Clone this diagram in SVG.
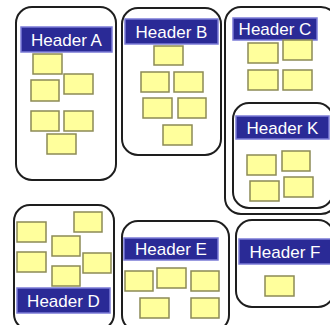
<svg xmlns="http://www.w3.org/2000/svg" width="330" height="325" viewBox="0 0 330 325">
  <style>
    .group { fill: #ffffff; stroke: #1e1e1e; stroke-width: 2; }
    .hdr { fill: #2a2a96; stroke: #7b7bd6; stroke-width: 1.5; }
    .hdr-text { fill: #ffffff; font-family: "Liberation Sans", Arial, sans-serif; font-size: 17px; text-anchor: middle; dominant-baseline: central; }
    .note { fill: #ffff9c; stroke: #8c8a56; stroke-width: 1.5; }
  </style>
  <rect width="330" height="325" fill="#ffffff"/>

  <g id="group-a">
    <rect class="group" x="16" y="7" width="100" height="173" rx="16"/>
    <rect class="hdr" x="21" y="27" width="91" height="25"/>
    <text class="hdr-text" x="66.5" y="40">Header A</text>
    <rect class="note" x="33" y="54" width="29" height="20"/>
    <rect class="note" x="31" y="80" width="28" height="21"/>
    <rect class="note" x="64" y="74" width="29" height="20"/>
    <rect class="note" x="31" y="111" width="28" height="20"/>
    <rect class="note" x="64" y="111" width="29" height="20"/>
    <rect class="note" x="47" y="134" width="29" height="20"/>
  </g>

  <g id="group-b">
    <rect class="group" x="122" y="8" width="99" height="147" rx="16"/>
    <rect class="hdr" x="125" y="19" width="93" height="25"/>
    <text class="hdr-text" x="171.5" y="32">Header B</text>
    <rect class="note" x="154" y="46" width="29" height="19"/>
    <rect class="note" x="141" y="72" width="28" height="20"/>
    <rect class="note" x="174" y="72" width="29" height="20"/>
    <rect class="note" x="143" y="98" width="29" height="20"/>
    <rect class="note" x="178" y="98" width="28" height="20"/>
    <rect class="note" x="163" y="125" width="29" height="20"/>
  </g>

  <g id="group-c">
    <rect class="group" x="225" y="7" width="112" height="207" rx="16"/>
    <rect class="hdr" x="233" y="18" width="84" height="22"/>
    <text class="hdr-text" x="275" y="29">Header C</text>
    <rect class="note" x="248" y="43" width="30" height="20"/>
    <rect class="note" x="283" y="40" width="29" height="20"/>
    <rect class="note" x="248" y="70" width="30" height="20"/>
    <rect class="note" x="283" y="70" width="29" height="20"/>
  </g>

  <g id="group-k">
    <rect class="group" x="233" y="103" width="100" height="105" rx="16"/>
    <rect class="hdr" x="236" y="116" width="93" height="23"/>
    <text class="hdr-text" x="282.5" y="128">Header K</text>
    <rect class="note" x="247" y="155" width="29" height="20"/>
    <rect class="note" x="282" y="151" width="28" height="20"/>
    <rect class="note" x="250" y="181" width="29" height="20"/>
    <rect class="note" x="284" y="177" width="29" height="20"/>
  </g>

  <g id="group-d">
    <rect class="group" x="14" y="205" width="100" height="125" rx="16"/>
    <rect class="hdr" x="17" y="288" width="93" height="25"/>
    <text class="hdr-text" x="63.5" y="301">Header D</text>
    <rect class="note" x="17" y="222" width="29" height="20"/>
    <rect class="note" x="74" y="212" width="28" height="20"/>
    <rect class="note" x="52" y="236" width="28" height="20"/>
    <rect class="note" x="17" y="252" width="29" height="20"/>
    <rect class="note" x="83" y="253" width="28" height="20"/>
    <rect class="note" x="52" y="266" width="28" height="20"/>
  </g>

  <g id="group-e">
    <rect class="group" x="122" y="221" width="107" height="110" rx="16"/>
    <rect class="hdr" x="124" y="238" width="94" height="22"/>
    <text class="hdr-text" x="171" y="249">Header E</text>
    <rect class="note" x="125" y="271" width="28" height="20"/>
    <rect class="note" x="157" y="268" width="29" height="20"/>
    <rect class="note" x="191" y="271" width="28" height="20"/>
    <rect class="note" x="140" y="298" width="29" height="20"/>
    <rect class="note" x="191" y="298" width="28" height="20"/>
  </g>

  <g id="group-f">
    <rect class="group" x="236" y="220" width="98" height="87" rx="16"/>
    <rect class="hdr" x="239" y="239" width="95" height="25"/>
    <text class="hdr-text" x="285" y="252">Header F</text>
    <rect class="note" x="265" y="276" width="29" height="20"/>
  </g>

  <g id="connectors"/>
</svg>
